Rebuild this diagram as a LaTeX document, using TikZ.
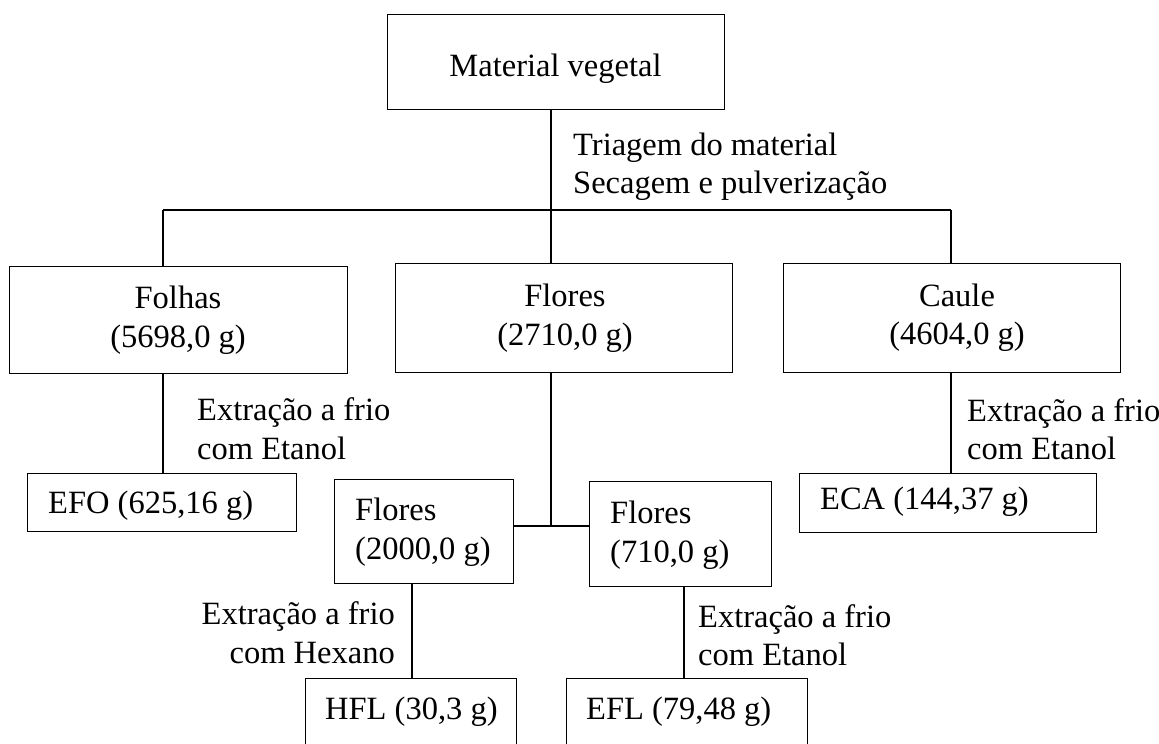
\documentclass[tikz,border=0pt]{standalone}
\usepackage{fontspec}
\setmainfont{Liberation Serif}
\begin{document}
\begin{tikzpicture}[x=1pt,y=-1pt,
  box/.style={draw,line width=1.2pt,inner sep=0pt,anchor=north west},
  txt/.style={inner sep=0pt,yshift=-4pt,font=\fontsize{32.5}{38.5}\selectfont},
  conn/.style={line width=1.2pt}]
\clip (0,0) rectangle (1159,744);
% boxes
\node[box,minimum width=337pt,minimum height=95pt] (mv) at (387,14) {};
\node[box,minimum width=338pt,minimum height=107pt] (folhas) at (9,266) {};
\node[box,minimum width=337pt,minimum height=109pt] (flores) at (395,263) {};
\node[box,minimum width=337pt,minimum height=109pt] (caule) at (783,263) {};
\node[box,minimum width=269pt,minimum height=58pt] (efo) at (27,473) {};
\node[box,minimum width=297pt,minimum height=59pt] (eca) at (799,473) {};
\node[box,minimum width=179pt,minimum height=104pt] (f2000) at (334,479) {};
\node[box,minimum width=182pt,minimum height=105pt] (f710) at (589,481) {};
\node[box,minimum width=211pt,minimum height=90pt] (hfl) at (305,678) {};
\node[box,minimum width=241pt,minimum height=90pt] (efl) at (566,678) {};
% texts
\node[txt] (tmv) at (555.5,65) {Material vegetal};
\node[txt,anchor=west,align=left] (ttri) at (573,162.5) {Triagem do material\\Secagem e pulverização};
\node[txt,align=center] (tfol) at (178,316) {Folhas\\(5698,0 g)};
\node[txt,align=center] (tflo) at (565,314) {Flores\\(2710,0 g)};
\node[txt,align=center] (tcau) at (957,313.5) {Caule\\(4604,0 g)};
\node[txt,anchor=west,align=left] (lfol) at (197,424.5) {Extração a frio\\com Etanol};
\node[txt,anchor=west,align=left] (lcau) at (967,425) {Extração a frio\\com Etanol};
\node[txt,anchor=west] (tefo) at (48,502) {EFO (625,16 g)};
\node[txt,anchor=west] (teca) at (820,498) {ECA (144,37 g)};
\node[txt,anchor=west,align=left] (tf2000) at (355,528) {Flores\\(2000,0 g)};
\node[txt,anchor=west,align=left] (tf710) at (610,531) {Flores\\(710,0 g)};
\node[txt,anchor=east,align=right] (lhex) at (395,628.5) {Extração a frio\\com Hexano};
\node[txt,anchor=west,align=left] (lefl) at (698,631) {Extração a frio\\com Etanol};
\node[txt,anchor=west] (thfl) at (325,708) {HFL (30,3 g)};
\node[txt,anchor=west] (tefl) at (586,708) {EFL (79,48 g)};
% connectors
\coordinate (j0) at (551,210);
\coordinate (jl) at (163,210);
\coordinate (jr) at (951,210);
\coordinate (jm) at (551,526);
\coordinate (jh) at (412,600);
\coordinate (je) at (684,600);
\draw[conn] (mv.south -| j0) -- (j0);
\draw[line width=1.6pt] (jl) -- (jr);
\draw[conn] (jl) -- (folhas.north -| jl);
\draw[conn] (j0) -- (flores.north -| j0);
\draw[conn] (jr) -- (caule.north -| jr);
\draw[conn] (folhas.south -| jl) -- (efo.north -| jl);
\draw[conn] (caule.south -| jr) -- (eca.north -| jr);
\draw[conn] (flores.south -| jm) -- (jm);
\draw[conn] (f2000.east |- jm) -- (f710.west |- jm);
\draw[conn] (f2000.south -| jh) -- (hfl.north -| jh);
\draw[conn] (f710.south -| je) -- (efl.north -| je);
\end{tikzpicture}
\end{document}
